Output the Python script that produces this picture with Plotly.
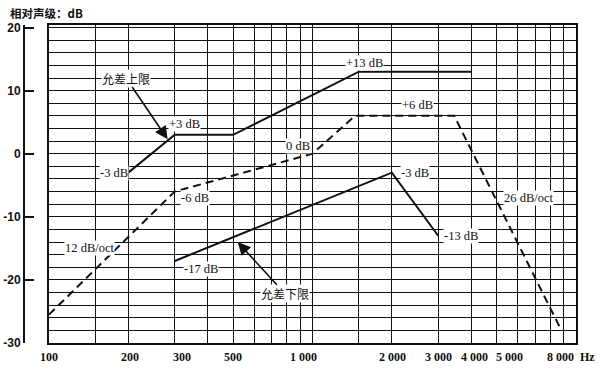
import math
import plotly.graph_objects as go

# ---- data ----
upper_f = [200, 300, 500, 1500, 4000]
upper_db = [-3, 3, 3, 13, 13]

nominal_f = [100, 300, 1000, 1450, 3450, 8800]
nominal_db = [-25.5, -6, 0, 6, 6, -28]

lower_f = [300, 2000, 3000]
lower_db = [-17, -3, -13]

grid_f = [100, 150, 200, 300, 400, 500, 600, 700, 800, 900, 1000, 1500,
          2000, 3000, 4000, 5000, 6000, 7000, 8000, 9000, 10000]
x_label_f = [100, 200, 300, 500, 1000, 2000, 3000, 4000, 5000, 8000]
x_label_text = ["100", "200", "300", "500", "1 000", "2 000", "3 000", "4 000", "5 000", "8 000"]
y_ticks = [-30, -20, -10, 0, 10, 20]

# labels: (text, freq, dB, xanchor)
labels = [
    ("+13 dB", 1580, 14.4, "center"),
    ("+6 dB", 2500, 7.7, "center"),
    ("+3 dB", 284, 4.7, "left"),
    ("-3 dB", 201, -3.1, "right"),
    ("0 dB", 880, 1.2, "center"),
    ("-6 dB", 315, -7.0, "left"),
    ("-3 dB", 2150, -3.0, "left"),
    ("-13 dB", 3130, -13.0, "left"),
    ("26 dB/oct", 5300, -7.0, "left"),
    ("12 dB/oct", 142, -14.9, "center"),
    ("-17 dB", 323, -18.2, "left"),
]
# arrow labels: (text, text freq, text dB, tip freq, tip dB)
arrow_labels = [
    ("允差上限", 196, 12.0, 282, 2.3),
    ("允差下限", 787, -22.2, 520, -14.0),
]

# small horizontal nudges of the x tick labels, as printed in the original
x_label_shift = [0, 2, 7, 0, -9, 1, 0, 3, 13, 10]

L = math.log10
ink = "#111111"

fig = go.Figure()
fig.add_trace(go.Scatter(x=upper_f, y=upper_db, mode="lines",
                         line=dict(color=ink, width=2), showlegend=False, hoverinfo="skip"))
fig.add_trace(go.Scatter(x=nominal_f, y=nominal_db, mode="lines",
                         line=dict(color=ink, width=2, dash="8px,5px"), showlegend=False, hoverinfo="skip"))
fig.add_trace(go.Scatter(x=lower_f, y=lower_db, mode="lines",
                         line=dict(color=ink, width=2), showlegend=False, hoverinfo="skip"))
fig.add_trace(go.Scatter(x=[100], y=[0], yaxis="y2", mode="markers",
                         marker=dict(opacity=0), showlegend=False, hoverinfo="skip"))

annots = []
serif = "Liberation Serif"
for text, f, db, xa in labels:
    annots.append(dict(x=L(f), y=db, text=text, showarrow=False, xanchor=xa, yanchor="middle",
                       bgcolor="white", borderpad=0,
                       font=dict(family=serif, size=12.5, color=ink)))
for text, f, db, tf, tdb in arrow_labels:
    annots.append(dict(x=L(tf), y=tdb, ax=L(f), ay=db, axref="x", ayref="y",
                       text=text, showarrow=True, arrowhead=2, arrowsize=1.6, arrowwidth=1.6,
                       arrowcolor=ink, standoff=0, bgcolor="white", borderpad=0,
                       font=dict(family="Noto Sans CJK SC", size=12, color=ink)))
for f, t, s in zip(x_label_f, x_label_text, x_label_shift):
    annots.append(dict(x=L(f), xref="x", y=-0.045, yref="paper", xshift=s,
                       xanchor="center", yanchor="middle", text=t, showarrow=False,
                       font=dict(family=serif, size=12, color=ink, weight="bold")))
annots.append(dict(xref="paper", yref="paper", x=-0.029, y=1.038, xanchor="left", yanchor="middle",
                   text="相对声级：dB", showarrow=False,
                   font=dict(family="Noto Sans CJK SC", size=11.5, color=ink, weight="bold")))
annots.append(dict(xref="paper", yref="paper", x=1.02, y=-0.045, xanchor="center", yanchor="middle",
                   text="Hz", showarrow=False,
                   font=dict(family=serif, size=12, color=ink, weight="bold")))

fig.update_layout(
    template="none",
    width=602, height=372,
    margin=dict(l=24, r=26, t=25, b=29, autoexpand=False),
    paper_bgcolor="white", plot_bgcolor="white",
    xaxis=dict(type="log", range=[2, 4], domain=[25 / 552, 1], automargin=False,
               tickvals=grid_f, showticklabels=False,
               showgrid=True, gridcolor=ink, gridwidth=1.4,
               showline=True, mirror=True, linecolor=ink, linewidth=2,
               ticks="", zeroline=False),
    yaxis=dict(range=[-30, 20.4], tick0=0, dtick=2, showticklabels=False, automargin=False,
               showgrid=True, gridcolor=ink, gridwidth=1.4, zeroline=False,
               showline=True, mirror=True, linecolor=ink, linewidth=2, ticks=""),
    yaxis2=dict(range=[-30, 20.4], overlaying="y", anchor="free", position=0, side="left",
                automargin=False,
                tickvals=y_ticks, ticktext=[str(v) for v in y_ticks],
                ticks="inside", ticklen=9, tickwidth=2, tickcolor=ink,
                showline=True, linecolor=ink, linewidth=2,
                showgrid=False, zeroline=False,
                tickfont=dict(family="Liberation Sans", size=12, color=ink, weight="bold")),
    annotations=annots,
)

fig.write_html("out.html", config={"displayModeBar": False},
               post_script="document.body.style.margin='0';document.body.style.padding='0';")
